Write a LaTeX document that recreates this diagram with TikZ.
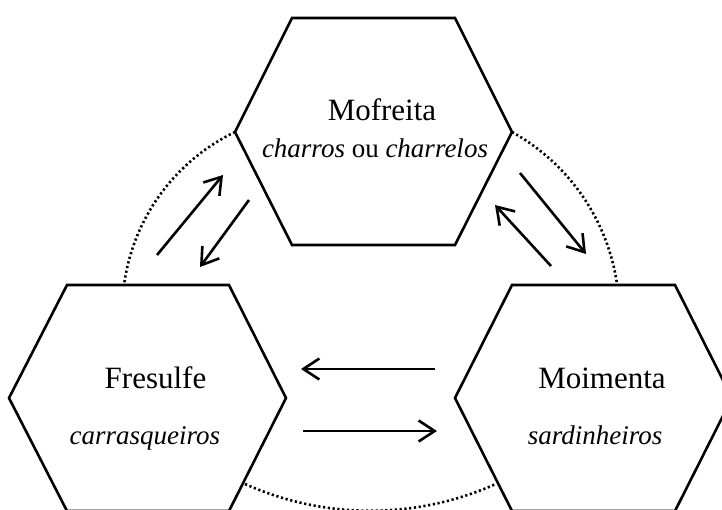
\documentclass[tikz,border=0pt]{standalone}
\usepackage{fontspec}
\setmainfont{Liberation Serif}
\usetikzlibrary{arrows.meta}
\begin{document}
\begin{tikzpicture}[x=1pt,y=-1pt,
  hexline/.style={line width=2.6pt, line join=miter},
  flow/.style={line width=2.6pt, -{Straight Barb[length=16pt,width=21pt]}},
  ring/.style={line width=2.6pt, dash pattern=on 2.2pt off 2.6pt},
  place/.style={anchor=base, inner sep=0pt, font=\fontsize{31}{36}\selectfont},
  folk/.style={anchor=base, inner sep=0pt, font=\fontsize{27}{32}\selectfont}
]
\useasboundingbox (0,0) rectangle (722,509);
\clip (0,0) rectangle (722,509);

% dotted ring segments between the villages
\coordinate (rTL) at (235,132);
\coordinate (rTR) at (512,132);
\coordinate (rBL) at (245,484);
\draw[ring] (rTL) arc[start angle=-115.7, end angle=-172.3, radius=199];
\draw[ring] (rTR) arc[start angle=-61, end angle=-8, radius=208];
\draw[ring] (rBL) arc[start angle=114.1, end angle=66, radius=307];

% hexagons
\draw[hexline] (292,18) -- (455,18) -- (512,132) -- (455,245) -- (292,245) -- (235,132) -- cycle;
\draw[hexline] (67,285) -- (229,285) -- (286,398) -- (229,511) -- (67,511) -- (9,398) -- cycle;
\draw[hexline] (512,285) -- (675,285) -- (732,398) -- (675,511) -- (512,511) -- (455,398) -- cycle;

% village names and nicknames
\node[place] (mofreita) at (382,120) {Mofreita};
\node[folk] (mofreitaN) at (375,157) {\textit{charros} ou \textit{charrelos}};
\node[place] (fresulfe) at (155.5,388) {Fresulfe};
\node[folk] (fresulfeN) at (145,444) {\textit{carrasqueiros}};
\node[place] (moimenta) at (602,388) {Moimenta};
\node[folk] (moimentaN) at (595,444) {\textit{sardinheiros}};

% arrow end points
\coordinate (a1s) at (157,255); \coordinate (a1e) at (223,175);
\coordinate (a2s) at (249,200); \coordinate (a2e) at (200,267);
\coordinate (a3s) at (520,173); \coordinate (a3e) at (586,254);
\coordinate (a4s) at (551,266); \coordinate (a4e) at (495,205);
\coordinate (a5s) at (435,369); \coordinate (a5e) at (301,369);
\coordinate (a6s) at (303,431); \coordinate (a6e) at (437,431);

\draw[flow] (a1s) -- (a1e);
\draw[flow] (a2s) -- (a2e);
\draw[flow] (a3s) -- (a3e);
\draw[flow] (a4s) -- (a4e);
\draw[flow] (a5s) -- (a5e);
\draw[flow] (a6s) -- (a6e);
\end{tikzpicture}
\end{document}
